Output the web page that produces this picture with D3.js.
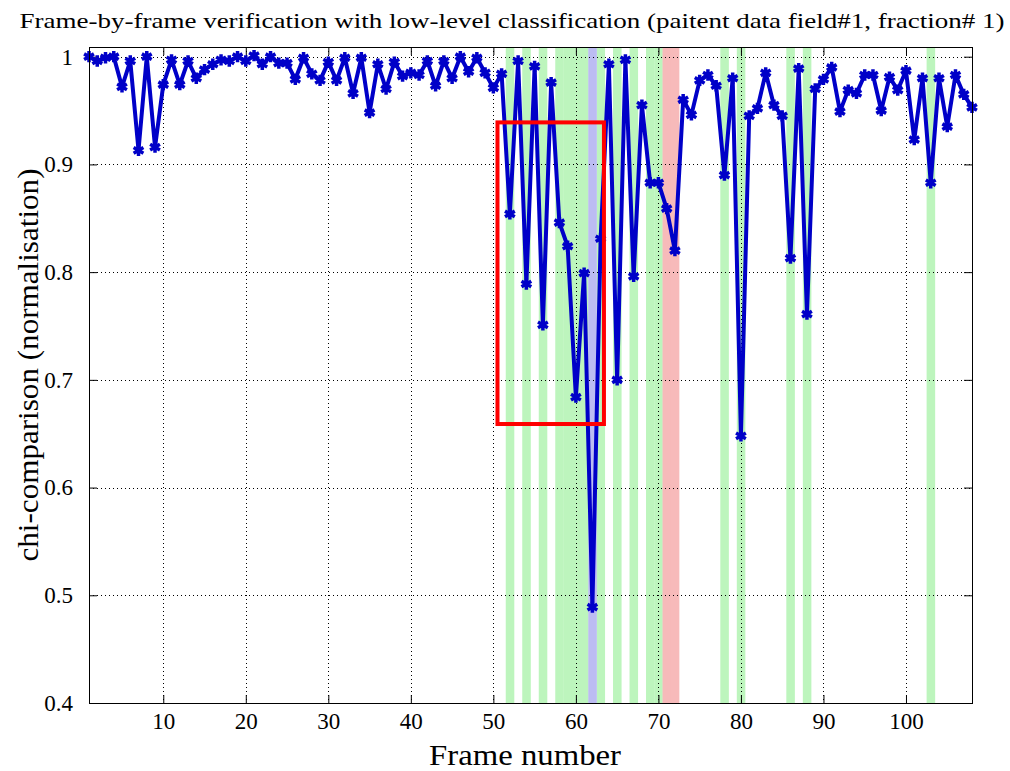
<!DOCTYPE html>
<html>
<head>
<meta charset="utf-8">
<script src="https://cdn.jsdelivr.net/npm/d3@7"></script>
<style>
  body { margin: 0; background: #fff; }
  text { font-family: "Liberation Serif", "Times New Roman", Times, serif; }
</style>
</head>
<body>
<svg id="chart" width="1010" height="771"></svg>
<script>
// 数据: 每一帧的 chi 值 (frame 1..108)
const frames = d3.range(1, 109);
const chiValues = [
  1.000, 0.996, 0.999, 1.000, 0.972, 0.996, 0.913, 1.000, 0.916, 0.974,
  0.997, 0.974, 0.996, 0.980, 0.988, 0.993, 0.997, 0.996, 1.000, 0.996,
  1.001, 0.993, 1.000, 0.994, 0.994, 0.979, 0.999, 0.984, 0.978, 0.995,
  0.978, 0.999, 0.966, 0.999, 0.948, 0.993, 0.970, 0.995, 0.982, 0.985,
  0.983, 0.996, 0.973, 0.996, 0.980, 1.000, 0.986, 0.999, 0.985, 0.971,
  0.984, 0.854, 0.996, 0.789, 0.991, 0.751, 0.976, 0.846, 0.824, 0.684,
  0.799, 0.489, 0.831, 0.993, 0.700, 0.997, 0.796, 0.955, 0.883, 0.883,
  0.859, 0.820, 0.960, 0.946, 0.978, 0.983, 0.973, 0.890, 0.980, 0.648,
  0.945, 0.952, 0.985, 0.955, 0.945, 0.813, 0.989, 0.761, 0.970, 0.979,
  0.990, 0.949, 0.969, 0.966, 0.983, 0.983, 0.950, 0.981, 0.969, 0.987,
  0.923, 0.980, 0.883, 0.980, 0.935, 0.983, 0.965, 0.953
];
// 分类色带 (帧号)
const greenFrames = [52, 54, 56, 58, 59, 60, 61, 63, 65, 67, 69, 70, 78, 80, 86, 88, 103];
const blueFrames = [62];
const redFrames = [71, 72];
// 红框 (帧范围, 值范围)
const boxFrames = [50.5, 63.4];
const boxValues = [0.659, 0.939];
// 刻度
const xTicks = [10, 20, 30, 40, 50, 60, 70, 80, 90, 100];
const yTicks = [0.4, 0.5, 0.6, 0.7, 0.8, 0.9, 1];

const title = 'Frame-by-frame verification with low-level classification (paitent data field#1, fraction# 1)';
const xLabel = 'Frame number';
const yLabel = 'chi-comparison (normalisation)';

const FONT = '"Liberation Serif", "Times New Roman", Times, serif';
const svg = d3.select('#chart');
const m = {left: 89, right: 972, top: 47, bottom: 703};

const x = d3.scaleLinear().domain([1, 108]).range([m.left, m.right]);
const y = d3.scaleLinear().domain([0.4, 1.009]).range([m.bottom, m.top]);

svg.append('rect').attr('width', 1010).attr('height', 771).attr('fill', '#fff');

//色带
const bands = [].concat(
  greenFrames.map(f => ({f: f, c: '#bdf5bd'})),
  blueFrames.map(f => ({f: f, c: '#bcbcf2'})),
  redFrames.map(f => ({f: f, c: '#f7baba'}))
);
svg.append('g').selectAll('rect').data(bands).enter().append('rect')
  .attr('x', d => x(d.f - 0.5))
  .attr('width', d => x(d.f + 0.5) - x(d.f - 0.5) + 0.3)
  .attr('y', m.top)
  .attr('height', m.bottom - m.top)
  .attr('fill', d => d.c);

//网格
const grid = svg.append('g')
  .attr('stroke', '#000')
  .attr('stroke-width', 1)
  .attr('stroke-dasharray', '1,3');
grid.selectAll('.gx').data(xTicks).enter().append('line')
  .attr('x1', d => Math.round(x(d)) + 0.5).attr('x2', d => Math.round(x(d)) + 0.5)
  .attr('y1', m.top).attr('y2', m.bottom);
grid.selectAll('.gy').data(yTicks.filter(v => v > 0.4)).enter().append('line')
  .attr('y1', d => Math.round(y(d)) + 0.5).attr('y2', d => Math.round(y(d)) + 0.5)
  .attr('x1', m.left).attr('x2', m.right);

//坐标轴 (刻度向内)
const axisStyle = g => {
  g.attr('font-family', FONT);
  g.select('.domain').remove();
  g.selectAll('.tick line').attr('stroke', '#000');
  g.selectAll('.tick text').attr('font-size', 23).attr('fill', '#000');
};
svg.append('g').attr('transform', `translate(0,${m.bottom})`)
  .call(d3.axisBottom(x).tickValues(xTicks).tickSizeInner(-8).tickPadding(10))
  .call(axisStyle);
svg.append('g').attr('transform', `translate(0,${m.top})`)
  .call(d3.axisTop(x).tickValues(xTicks).tickSizeInner(-8).tickFormat(''))
  .call(axisStyle);
svg.append('g').attr('transform', `translate(${m.left},0)`)
  .call(d3.axisLeft(y).tickValues(yTicks).tickSizeInner(-8).tickPadding(16).tickFormat(d3.format('')))
  .call(axisStyle);
svg.append('g').attr('transform', `translate(${m.right},0)`)
  .call(d3.axisRight(y).tickValues(yTicks).tickSizeInner(-8).tickFormat(''))
  .call(axisStyle);

//数据线
const line = d3.line()
  .x((d, i) => x(frames[i]))
  .y(d => y(d));
svg.append('path')
  .datum(chiValues)
  .attr('d', line)
  .attr('fill', 'none')
  .attr('stroke', '#0000c8')
  .attr('stroke-width', 4)
  .attr('stroke-linejoin', 'round');

const sym = d3.symbol().type(d3.symbolAsterisk || d3.symbolCross).size(90);
svg.append('g').selectAll('path').data(chiValues).enter().append('path')
  .attr('transform', (d, i) => `translate(${x(frames[i])},${y(d)})`)
  .attr('d', sym)
  .attr('fill', 'none')
  .attr('stroke', '#0000c8')
  .attr('stroke-width', 3.5);

//红框
svg.append('rect')
  .attr('x', x(boxFrames[0]))
  .attr('y', y(boxValues[1]))
  .attr('width', x(boxFrames[1]) - x(boxFrames[0]))
  .attr('height', y(boxValues[0]) - y(boxValues[1]))
  .attr('fill', 'none')
  .attr('stroke', '#ff0000')
  .attr('stroke-width', 4);

//边框
svg.append('rect')
  .attr('x', m.left + 0.5).attr('y', m.top + 0.5)
  .attr('width', m.right - m.left).attr('height', m.bottom - m.top)
  .attr('fill', 'none').attr('stroke', '#000').attr('stroke-width', 1);

//标题和轴标签
svg.append('text')
  .attr('x', 512).attr('y', 28)
  .attr('text-anchor', 'middle')
  .attr('font-family', FONT)
  .attr('font-size', 22)
  .attr('textLength', 985).attr('lengthAdjust', 'spacingAndGlyphs')
  .text(title);
svg.append('text')
  .attr('x', 525).attr('y', 765)
  .attr('text-anchor', 'middle')
  .attr('font-family', FONT)
  .attr('font-size', 29)
  .attr('textLength', 192).attr('lengthAdjust', 'spacingAndGlyphs')
  .text(xLabel);
svg.append('text')
  .attr('transform', 'translate(38,365) rotate(-90)')
  .attr('text-anchor', 'middle')
  .attr('font-family', FONT)
  .attr('font-size', 30)
  .attr('textLength', 393).attr('lengthAdjust', 'spacingAndGlyphs')
  .text(yLabel);
</script>
</body>
</html>
